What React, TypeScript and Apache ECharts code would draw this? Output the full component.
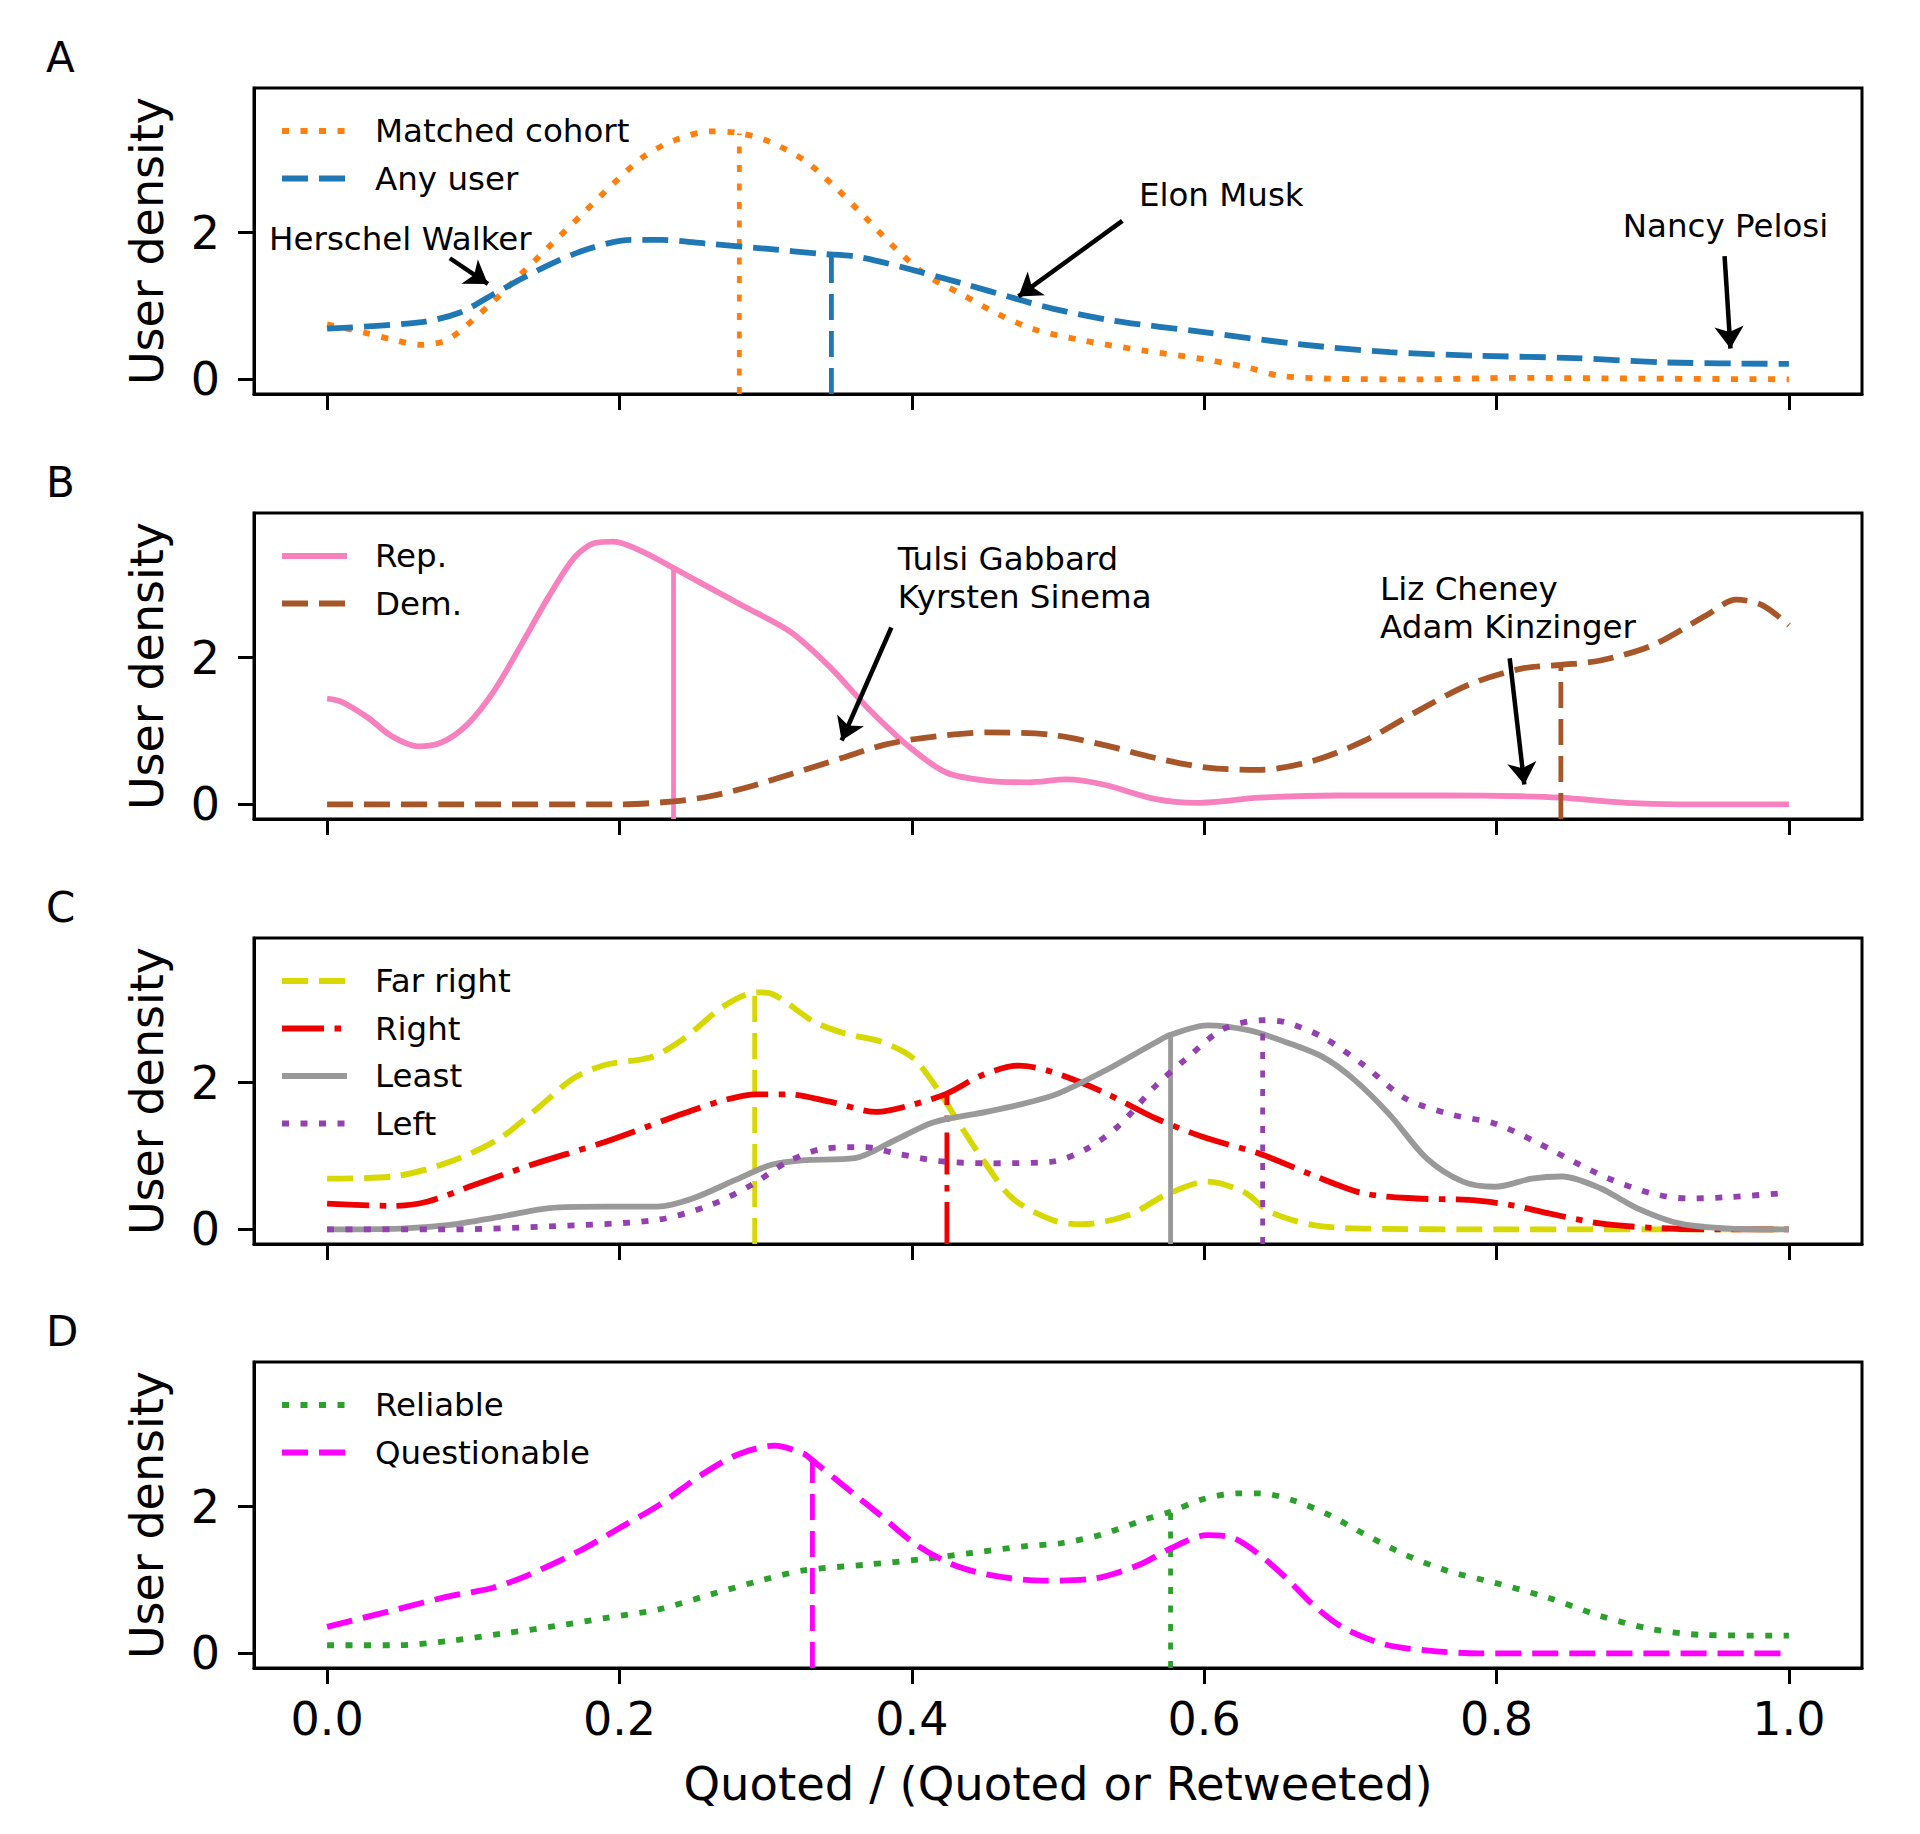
import * as echarts from 'echarts';
import { useEffect, useRef } from 'react';

type Pt = [number, number];
type Dash = 'solid' | 'dotted' | 'dashed' | 'dashdot';

interface Curve {
  name: string;
  color: string;
  dash: Dash;
  data: Pt[];
  median: Pt;
}

interface Note {
  text: string;
  at: Pt;
  from: Pt;
  to: Pt;
}

const xTicks = [0, 0.2, 0.4, 0.6, 0.8, 1.0];
const yTicks = [0, 2];
const panelLetters = ['A', 'B', 'C', 'D'];
const yName = 'User density';
const xName = 'Quoted / (Quoted or Retweeted)';

// panel A
const matchedCohort: Pt[] = [
  [0, 0.75], [0.025, 0.64], [0.045, 0.54], [0.065, 0.47], [0.08, 0.52], [0.091, 0.66],
  [0.112, 1.03], [0.133, 1.44], [0.154, 1.85], [0.175, 2.26], [0.196, 2.67], [0.217, 3.04],
  [0.238, 3.26], [0.263, 3.38], [0.28, 3.36], [0.3, 3.26], [0.326, 2.99], [0.347, 2.63],
  [0.368, 2.21], [0.389, 1.78], [0.41, 1.42], [0.434, 1.16], [0.459, 0.89], [0.484, 0.68],
  [0.517, 0.53], [0.559, 0.39], [0.601, 0.27], [0.63, 0.16], [0.651, 0.05], [0.685, 0.01],
  [0.75, 0.0], [0.81, 0.02], [0.9, 0.01], [1.0, 0.0],
];
const anyUser: Pt[] = [
  [0, 0.69], [0.0645, 0.78], [0.091, 0.91], [0.112, 1.14], [0.133, 1.37], [0.154, 1.58],
  [0.179, 1.78], [0.208, 1.9], [0.229, 1.9], [0.259, 1.85], [0.3, 1.78], [0.338, 1.71],
  [0.363, 1.67], [0.393, 1.53], [0.434, 1.31], [0.471, 1.1], [0.497, 0.96], [0.538, 0.8],
  [0.601, 0.64], [0.664, 0.48], [0.727, 0.37], [0.79, 0.32], [0.853, 0.29], [0.916, 0.23],
  [1.0, 0.21],
];

// panel B
const rep: Pt[] = [
  [0, 1.44], [0.0096, 1.4], [0.028, 1.18], [0.044, 0.93], [0.062, 0.79], [0.078, 0.84],
  [0.096, 1.09], [0.114, 1.54], [0.133, 2.18], [0.151, 2.81], [0.169, 3.36], [0.183, 3.56],
  [0.196, 3.58], [0.215, 3.45], [0.237, 3.22], [0.26, 2.97], [0.283, 2.72], [0.317, 2.35],
  [0.345, 1.85], [0.37, 1.31], [0.399, 0.77], [0.424, 0.43], [0.452, 0.32], [0.48, 0.3],
  [0.506, 0.34], [0.531, 0.27], [0.567, 0.07], [0.595, 0.02], [0.638, 0.09], [0.692, 0.12],
  [0.764, 0.12], [0.817, 0.11], [0.844, 0.09], [0.889, 0.02], [0.924, 0], [1.0, 0],
];
const dem: Pt[] = [
  [0, 0], [0.1, 0], [0.2, 0], [0.237, 0.04], [0.262, 0.11], [0.287, 0.23], [0.317, 0.41],
  [0.352, 0.63], [0.381, 0.81], [0.406, 0.9], [0.452, 0.98], [0.495, 0.95], [0.531, 0.81],
  [0.567, 0.63], [0.602, 0.5], [0.638, 0.47], [0.674, 0.59], [0.709, 0.86], [0.745, 1.26],
  [0.781, 1.63], [0.817, 1.85], [0.844, 1.9], [0.871, 1.96], [0.907, 2.17], [0.943, 2.57],
  [0.964, 2.79], [0.982, 2.71], [1.0, 2.44],
];

// panel C
const farRight: Pt[] = [
  [0, 0.69], [0.045, 0.72], [0.084, 0.92], [0.118, 1.24], [0.144, 1.65], [0.168, 2.05],
  [0.19, 2.24], [0.222, 2.35], [0.244, 2.6], [0.272, 3.05], [0.294, 3.23], [0.304, 3.21],
  [0.333, 2.83], [0.354, 2.67], [0.38, 2.55], [0.401, 2.33], [0.419, 1.87], [0.433, 1.42],
  [0.451, 0.88], [0.469, 0.42], [0.497, 0.12], [0.517, 0.07], [0.549, 0.2], [0.574, 0.47],
  [0.602, 0.65], [0.627, 0.51], [0.645, 0.24], [0.674, 0.06], [0.709, 0.01], [0.8, 0], [1.0, 0],
];
const right: Pt[] = [
  [0, 0.35], [0.045, 0.32], [0.069, 0.38], [0.1, 0.6], [0.14, 0.88], [0.19, 1.19],
  [0.237, 1.53], [0.268, 1.74], [0.294, 1.84], [0.315, 1.84], [0.344, 1.74], [0.376, 1.6],
  [0.399, 1.69], [0.424, 1.85], [0.448, 2.1], [0.473, 2.23], [0.495, 2.15], [0.531, 1.87],
  [0.567, 1.51], [0.602, 1.24], [0.638, 1.03], [0.674, 0.74], [0.709, 0.49], [0.745, 0.42],
  [0.781, 0.4], [0.81, 0.33], [0.835, 0.22], [0.871, 0.08], [0.907, 0.02], [0.95, 0], [1.0, 0],
];
const least: Pt[] = [
  [0, 0], [0.05, 0.01], [0.084, 0.06], [0.118, 0.17], [0.152, 0.29], [0.19, 0.31],
  [0.226, 0.31], [0.25, 0.42], [0.279, 0.67], [0.304, 0.88], [0.325, 0.94], [0.361, 0.97],
  [0.386, 1.19], [0.415, 1.46], [0.451, 1.6], [0.476, 1.71], [0.5, 1.85], [0.531, 2.15],
  [0.567, 2.55], [0.577, 2.65], [0.602, 2.78], [0.631, 2.71], [0.656, 2.55], [0.681, 2.35],
  [0.702, 2.05], [0.727, 1.56], [0.752, 0.97], [0.777, 0.65], [0.799, 0.58], [0.824, 0.69],
  [0.845, 0.72], [0.871, 0.56], [0.896, 0.29], [0.925, 0.08], [0.96, 0.01], [1.0, 0],
];
const left: Pt[] = [
  [0, 0], [0.084, 0], [0.152, 0.04], [0.226, 0.13], [0.262, 0.33], [0.29, 0.6], [0.315, 0.92],
  [0.34, 1.1], [0.368, 1.12], [0.39, 1.03], [0.419, 0.93], [0.451, 0.9], [0.495, 0.92],
  [0.52, 1.1], [0.542, 1.42], [0.567, 1.96], [0.588, 2.33], [0.613, 2.73], [0.64, 2.85],
  [0.656, 2.82], [0.681, 2.62], [0.709, 2.24], [0.738, 1.78], [0.77, 1.56], [0.799, 1.44],
  [0.827, 1.19], [0.853, 0.92], [0.877, 0.69], [0.906, 0.49], [0.931, 0.42], [0.96, 0.44],
  [1.0, 0.5],
];

// panel D
const reliable: Pt[] = [
  [0, 0.11], [0.048, 0.11], [0.084, 0.17], [0.12, 0.27], [0.156, 0.37], [0.19, 0.48],
  [0.227, 0.6], [0.262, 0.8], [0.298, 1.0], [0.326, 1.13], [0.37, 1.21], [0.406, 1.28],
  [0.442, 1.37], [0.478, 1.46], [0.502, 1.5], [0.53, 1.62], [0.559, 1.82], [0.577, 1.93],
  [0.599, 2.1], [0.624, 2.18], [0.638, 2.18], [0.66, 2.09], [0.685, 1.89], [0.71, 1.62],
  [0.738, 1.34], [0.767, 1.12], [0.799, 0.96], [0.835, 0.76], [0.871, 0.51], [0.906, 0.33],
  [0.942, 0.25], [1.0, 0.24],
];
const questionable: Pt[] = [
  [0, 0.36], [0.048, 0.6], [0.084, 0.78], [0.113, 0.89], [0.138, 1.07], [0.174, 1.41],
  [0.202, 1.73], [0.227, 2.02], [0.256, 2.43], [0.281, 2.71], [0.306, 2.83], [0.326, 2.72],
  [0.332, 2.63], [0.353, 2.29], [0.378, 1.89], [0.403, 1.48], [0.428, 1.21], [0.453, 1.07],
  [0.489, 0.99], [0.525, 1.02], [0.556, 1.21], [0.577, 1.43], [0.602, 1.61], [0.62, 1.57],
  [0.638, 1.34], [0.656, 1.03], [0.674, 0.67], [0.695, 0.35], [0.724, 0.12], [0.752, 0.04],
  [0.788, 0], [1.0, 0],
];

const panels: Curve[][] = [
  [
    { name: 'Matched cohort', color: '#ff7f0e', dash: 'dotted', data: matchedCohort, median: [0.282, 3.35] },
    { name: 'Any user', color: '#1f77b4', dash: 'dashed', data: anyUser, median: [0.345, 1.71] },
  ],
  [
    { name: 'Rep.', color: '#f781bf', dash: 'solid', data: rep, median: [0.237, 3.22] },
    { name: 'Dem.', color: '#a65628', dash: 'dashed', data: dem, median: [0.844, 1.9] },
  ],
  [
    { name: 'Far right', color: '#d6d800', dash: 'dashed', data: farRight, median: [0.2925, 3.21] },
    { name: 'Right', color: '#ee0000', dash: 'dashdot', data: right, median: [0.424, 1.85] },
    { name: 'Least', color: '#999999', dash: 'solid', data: least, median: [0.577, 2.65] },
    { name: 'Left', color: '#9440b0', dash: 'dotted', data: left, median: [0.64, 2.85] },
  ],
  [
    { name: 'Reliable', color: '#2ca02c', dash: 'dotted', data: reliable, median: [0.577, 1.93] },
    { name: 'Questionable', color: '#ff00ff', dash: 'dashed', data: questionable, median: [0.332, 2.63] },
  ],
];

const notes: Note[][] = [
  [
    { text: 'Herschel Walker', at: [-0.04, 1.91], from: [0.084, 1.65], to: [0.11, 1.3] },
    { text: 'Elon Musk', at: [0.555, 2.51], from: [0.544, 2.16], to: [0.473, 1.13] },
    { text: 'Nancy Pelosi', at: [0.886, 2.09], from: [0.956, 1.68], to: [0.96, 0.42] },
  ],
  [
    { text: 'Tulsi Gabbard\nKyrsten Sinema', at: [0.39, 3.09], from: [0.386, 2.41], to: [0.352, 0.87] },
    { text: 'Liz Cheney\nAdam Kinzinger', at: [0.72, 2.68], from: [0.809, 1.99], to: [0.819, 0.27] },
  ],
  [],
  [],
];

const X_MIN = -0.05;
const X_MAX = 1.05;
const Y_MIN = -0.2;
const Y_MAX = 3.97;

const FONT = 'DejaVu Sans';
const LW = 5.8;
const GRID_LEFT = 254;
const GRID_WIDTH = 1608;
const GRID_HEIGHT = 306;
const panelTops = [88, 513, 938, 1362];

function dashFor(d: Dash): number[] | 'solid' {
  if (d === 'dotted') return [7, 11.5];
  if (d === 'dashed') return [26, 11];
  if (d === 'dashdot') return [42, 10.5, 6.5, 10.5];
  return 'solid';
}

function buildOption() {
  const grid = panelTops.map((top) => ({
    left: GRID_LEFT,
    width: GRID_WIDTH,
    top,
    height: GRID_HEIGHT,
    show: true,
    borderColor: '#000',
    borderWidth: 3,
    backgroundColor: 'transparent',
  }));

  const xAxis = panelTops.map((_, i) => {
    const last = i === panelTops.length - 1;
    return {
      type: 'value',
      gridIndex: i,
      min: X_MIN,
      max: X_MAX,
      splitLine: { show: false },
      axisLine: { show: true, onZero: false, lineStyle: { color: '#000', width: 3 } },
      axisTick: { show: true, length: 16, customValues: xTicks, lineStyle: { color: '#000', width: 3 } },
      axisLabel: {
        show: last,
        customValues: xTicks,
        formatter: (v: number) => v.toFixed(1),
        fontSize: 46,
        color: '#000',
        margin: 28,
        fontFamily: FONT,
      },
      name: last ? xName : '',
      nameLocation: 'middle',
      nameGap: 92,
      nameTextStyle: { fontSize: 46.5, color: '#000', fontFamily: FONT },
    };
  });

  const yAxis = panelTops.map((_, i) => ({
    type: 'value',
    gridIndex: i,
    min: Y_MIN,
    max: Y_MAX,
    splitLine: { show: false },
    axisLine: { show: true, onZero: false, lineStyle: { color: '#000', width: 3 } },
    axisTick: { show: true, length: 16, customValues: yTicks, lineStyle: { color: '#000', width: 3 } },
    axisLabel: { customValues: yTicks, fontSize: 46, color: '#000', margin: 34, fontFamily: FONT },
    name: yName,
    nameLocation: 'middle',
    nameGap: 84,
    nameTextStyle: { fontSize: 46, color: '#000', fontFamily: FONT },
  }));

  const series: any[] = [];
  panels.forEach((curves, i) => {
    curves.forEach((c, k) => {
      const lineStyle = { color: c.color, width: LW, type: dashFor(c.dash), cap: 'butt' };
      const s: any = {
        type: 'line',
        name: c.name,
        xAxisIndex: i,
        yAxisIndex: i,
        data: c.data,
        smooth: 0.3,
        symbol: 'none',
        silent: true,
        lineStyle,
        itemStyle: { color: c.color },
        z: 3,
      };
      if (k === 0 && notes[i].length) {
        s.markPoint = {
          silent: true,
          symbol: 'circle',
          symbolSize: 1,
          itemStyle: { color: 'rgba(0,0,0,0)' },
          data: notes[i].map((n) => ({
            coord: n.at,
            label: {
              show: true,
              position: 'right',
              distance: 0,
              formatter: n.text,
              fontSize: 32.5,
              lineHeight: 38,
              color: '#000',
              fontFamily: FONT,
            },
          })),
        };
        s.markLine = {
          silent: true,
          symbol: ['none', 'arrow'],
          symbolSize: 22,
          label: { show: false },
          lineStyle: { color: '#000', width: 4.5, type: 'solid' },
          data: notes[i].map((n) => [{ coord: n.from }, { coord: n.to }]),
        };
      }
      series.push(s);
      // median marker: vertical line from the axis floor up to the curve
      series.push({
        type: 'line',
        xAxisIndex: i,
        yAxisIndex: i,
        data: [[c.median[0], Y_MIN], c.median],
        symbol: 'none',
        silent: true,
        lineStyle: { ...lineStyle, width: LW - 1 },
        z: 3,
      });
    });
  });

  const graphic: any[] = [];
  panels.forEach((curves, i) => {
    graphic.push({
      type: 'text',
      x: 46,
      y: panelTops[i] - 31,
      style: { text: panelLetters[i], fontSize: 42, fill: '#000', fontFamily: FONT, verticalAlign: 'middle' },
    });
    curves.forEach((c, k) => {
      const y = panelTops[i] + 43 + k * 47.5;
      const dash = dashFor(c.dash);
      graphic.push({
        type: 'line',
        shape: { x1: 282, y1: y, x2: 347, y2: y },
        style: { stroke: c.color, lineWidth: LW, lineDash: dash === 'solid' ? null : dash },
      });
      graphic.push({
        type: 'text',
        x: 375,
        y,
        style: { text: c.name, fontSize: 32.5, fill: '#000', fontFamily: FONT, verticalAlign: 'middle' },
      });
    });
  });

  return {
    animation: false,
    backgroundColor: '#fff',
    textStyle: { fontFamily: FONT },
    grid,
    xAxis,
    yAxis,
    series,
    graphic,
  };
}

export default function App() {
  const ref = useRef<HTMLDivElement | null>(null);

  useEffect(() => {
    if (!ref.current) return;
    const chart = echarts.init(ref.current, undefined, { renderer: 'svg' });
    chart.setOption(buildOption());
    return () => chart.dispose();
  }, []);

  return (
    <div
      ref={ref}
      style={{ position: 'absolute', left: 0, top: 0, width: 1920, height: 1834, background: '#fff' }}
    />
  );
}
